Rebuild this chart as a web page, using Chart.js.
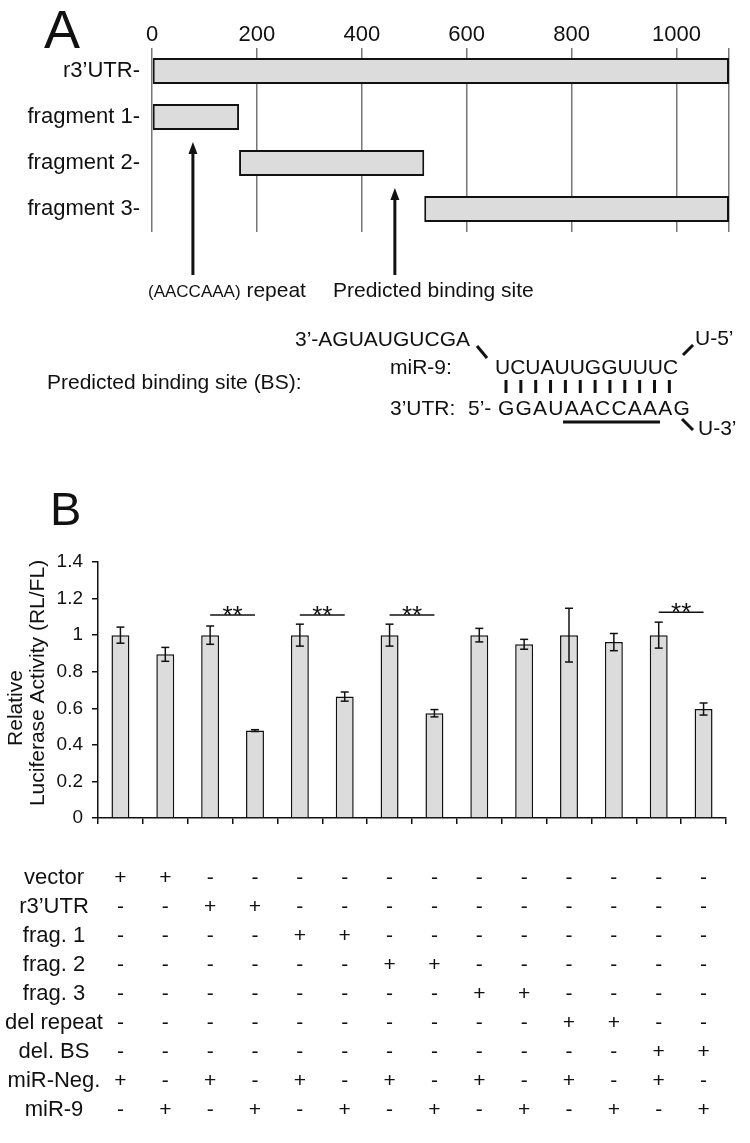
<!DOCTYPE html>
<html>
<head>
<meta charset="utf-8">
<script src="https://cdn.jsdelivr.net/npm/chart.js@4.4.1/dist/chart.umd.min.js"></script>
<style>
  body { margin: 0; background: #fff; }
  #page { position: relative; width: 750px; height: 1143px; overflow: hidden; background: #fff;
          font-family: "Liberation Sans", Arial, sans-serif; color: #111; }
  #page canvas { position: absolute; left: 0; }
  .t { position: absolute; white-space: nowrap; line-height: 1; }
</style>
</head>
<body>
<div id="page">
  <canvas id="mapChart" width="750" height="440" style="top:0"></canvas>
  <canvas id="lucChart" width="750" height="613" style="top:530px"></canvas>

  <div class="t" style="left:44px;top:2px;font-size:54px">A</div>
  <div class="t" style="left:148px;top:279px;font-size:21px"><span style="font-size:17px">(AACCAAA)</span> repeat</div>
  <div class="t" style="left:333px;top:279px;font-size:21px">Predicted binding site</div>
  <div class="t" style="left:295px;top:328px;font-size:21px">3’-AGUAUGUCGA</div>
  <div class="t" style="left:695px;top:327px;font-size:21px">U-5’</div>
  <div class="t" style="left:390px;top:356px;font-size:21px">miR-9:</div>
  <div class="t" style="left:495px;top:356px;font-size:21px">UCUAUUGGUUUC</div>
  <div class="t" style="left:47px;top:371px;font-size:21px">Predicted binding site (BS):</div>
  <div class="t" style="left:390px;top:397px;font-size:21px">3’UTR:</div>
  <div class="t" style="left:468px;top:397px;font-size:21px">5’-</div>
  <div class="t" style="left:498px;top:397px;font-size:21px;letter-spacing:1.2px">GGAUAACCAAAG</div>
  <div class="t" style="left:698px;top:417px;font-size:21px">U-3’</div>
  <div class="t" style="left:50px;top:485px;font-size:47px">B</div>
</div>

<script>
// panel A: 3'UTR map (nt)
const regionNames = ['r3\u2019UTR-', 'fragment 1-', 'fragment 2-', 'fragment 3-'];
const regionStart = [0, 0, 166, 519];
const regionEnd = [1100, 166, 519, 1100];
const ntTicks = [0, 200, 400, 600, 800, 1000];
const utrLength = 1100;
const arrowSites = [78, 463];   // repeat, predicted binding site
const arrowRows = [1, 2];

// panel B: luciferase assay
const samples = ['1', '2', '3', '4', '5', '6', '7', '8', '9', '10', '11', '12', '13', '14'];
const activity = [1.0, 0.895, 1.0, 0.478, 1.0, 0.664, 1.0, 0.573, 1.0, 0.950, 1.0, 0.962, 1.0, 0.596];
const activityErr = [0.044, 0.038, 0.05, 0.005, 0.06, 0.025, 0.06, 0.02, 0.037, 0.027, 0.147, 0.047, 0.071, 0.033];
const yTicks = [0, 0.2, 0.4, 0.6, 0.8, 1, 1.2, 1.4];
const sigPairs = [[2, 3], [4, 5], [6, 7], [12, 13]];
const sigLevel = [1.11, 1.11, 1.11, 1.125];

const constructs = ['vector', 'r3\u2019UTR', 'frag. 1', 'frag. 2', 'frag. 3', 'del repeat', 'del. BS', 'miR-Neg.', 'miR-9'];
const constructSigns = [
  '++------------',
  '--++----------',
  '----++--------',
  '------++------',
  '--------++----',
  '----------++--',
  '------------++',
  '+-+-+-+-+-+-+-',
  '-+-+-+-+-+-+-+'
];

const FONT = '"Liberation Sans", Arial, sans-serif';
const INK = '#111';
const BAR_FILL = '#dcdcdc';

function line(ctx, x1, y1, x2, y2) {
  ctx.beginPath();
  ctx.moveTo(x1, y1);
  ctx.lineTo(x2, y2);
  ctx.stroke();
}

const mapDecor = {
  id: 'mapDecor',
  afterDraw(chart) {
    const ctx = chart.ctx;
    const xs = chart.scales.x, ys = chart.scales.y;
    ctx.save();
    ctx.strokeStyle = INK;
    ctx.fillStyle = INK;
    ctx.lineWidth = 3;
    // arrows pointing at the sites
    arrowSites.forEach((site, i) => {
      const x = xs.getPixelForValue(site);
      const tip = ys.getPixelForValue(arrowRows[i]) + 25;
      line(ctx, x, tip + 8, x, 275);
      ctx.beginPath();
      ctx.moveTo(x, tip);
      ctx.lineTo(x - 4.5, tip + 12);
      ctx.lineTo(x + 4.5, tip + 12);
      ctx.closePath();
      ctx.fill();
    });
    // base pairing ticks
    for (let i = 0; i < 12; i++) {
      const x = 506 + i * 14.85;
      line(ctx, x, 380, x, 393);
    }
    // seed underline + loops
    line(ctx, 563, 422, 660, 422);
    line(ctx, 477, 346, 487, 358);
    line(ctx, 683, 355, 693, 345);
    line(ctx, 682, 419, 693, 430);
    ctx.restore();
  }
};

new Chart(document.getElementById('mapChart'), {
  type: 'bar',
  data: {
    labels: regionNames,
    datasets: [{
      data: regionStart.map((s, i) => [s, regionEnd[i]]),
      backgroundColor: BAR_FILL,
      borderColor: INK,
      borderWidth: 2,
      borderSkipped: false,
      barPercentage: 0.565,
      categoryPercentage: 1
    }]
  },
  options: {
    indexAxis: 'y',
    responsive: false,
    animation: false,
    devicePixelRatio: 1,
    layout: { padding: { top: 0, right: 21, bottom: 208, left: 0 } },
    plugins: { legend: { display: false }, tooltip: { enabled: false } },
    scales: {
      x: {
        position: 'top',
        min: 0,
        max: utrLength,
        afterBuildTicks: s => { s.ticks = ntTicks.concat([utrLength]).map(v => ({ value: v })); },
        afterFit: s => { s.height = 48; },
        ticks: {
          callback: v => ntTicks.includes(v) ? String(v) : '',
          font: { family: FONT, size: 22 },
          color: INK,
          padding: 0,
          maxRotation: 0
        },
        grid: { color: '#777', lineWidth: 1.5, drawTicks: false },
        border: { display: false }
      },
      y: {
        afterFit: s => { s.width = 152; },
        ticks: { font: { family: FONT, size: 22 }, color: INK, padding: 12 },
        grid: { display: false, drawTicks: false },
        border: { display: false }
      }
    }
  },
  plugins: [mapDecor]
});

const lucDecor = {
  id: 'lucDecor',
  afterDatasetsDraw(chart) {
    const ctx = chart.ctx;
    const ys = chart.scales.y;
    const bars = chart.getDatasetMeta(0).data;
    ctx.save();
    ctx.strokeStyle = INK;
    ctx.fillStyle = INK;
    ctx.lineWidth = 1.5;
    // error bars
    bars.forEach((b, i) => {
      const top = ys.getPixelForValue(activity[i] + activityErr[i]);
      const bot = ys.getPixelForValue(activity[i] - activityErr[i]);
      line(ctx, b.x, top, b.x, bot);
      line(ctx, b.x - 4, top, b.x + 4, top);
      line(ctx, b.x - 4, bot, b.x + 4, bot);
    });
    // significance marks
    ctx.font = '26px ' + FONT;
    ctx.textAlign = 'center';
    ctx.textBaseline = 'alphabetic';
    sigPairs.forEach((p, i) => {
      const y = ys.getPixelForValue(sigLevel[i]);
      const x1 = bars[p[0]].x, x2 = bars[p[1]].x;
      line(ctx, x1, y, x2, y);
      ctx.fillText('**', (x1 + x2) / 2, y + 9);
    });
    ctx.restore();
  },
  afterDraw(chart) {
    const ctx = chart.ctx;
    const area = chart.chartArea;
    const bars = chart.getDatasetMeta(0).data;
    ctx.save();
    ctx.fillStyle = INK;
    // y axis title (two lines)
    ctx.font = '21px ' + FONT;
    ctx.textAlign = 'center';
    ctx.textBaseline = 'middle';
    [['Relative', 16, 178], ['Luciferase Activity (RL/FL)', 38, 153]].forEach(t => {
      ctx.save();
      ctx.translate(t[1], t[2]);
      ctx.rotate(-Math.PI / 2);
      ctx.fillText(t[0], 0, 0);
      ctx.restore();
    });
    // construct table
    const rowTop = area.bottom + 60;
    const rowGap = 29;
    constructs.forEach((name, r) => {
      const y = rowTop + r * rowGap;
      ctx.font = '22px ' + FONT;
      ctx.textAlign = 'center';
      ctx.fillText(name, 54, y);
      ctx.font = '21px ' + FONT;
      constructSigns[r].split('').forEach((s, c) => {
        ctx.fillText(s, bars[c].x, y);
      });
    });
    ctx.restore();
  }
};

new Chart(document.getElementById('lucChart'), {
  type: 'bar',
  data: {
    labels: samples,
    datasets: [{
      data: activity,
      backgroundColor: BAR_FILL,
      borderColor: INK,
      borderWidth: 1.5,
      barPercentage: 0.4,
      categoryPercentage: 1
    }]
  },
  options: {
    responsive: false,
    animation: false,
    devicePixelRatio: 1,
    layout: { padding: { top: 32, right: 24, bottom: 0, left: 0 } },
    plugins: { legend: { display: false }, tooltip: { enabled: false } },
    scales: {
      x: {
        afterFit: s => { s.height = 325; },
        ticks: { display: false },
        grid: { drawOnChartArea: false, color: INK, lineWidth: 1.5, tickLength: 6, offset: true },
        border: { color: INK, width: 1.5 }
      },
      y: {
        min: 0,
        max: 1.4,
        afterBuildTicks: s => { s.ticks = yTicks.map(v => ({ value: v })); },
        afterFit: s => { s.width = 98; },
        ticks: {
          callback: v => String(+v.toFixed(1)),
          font: { family: FONT, size: 19 },
          color: INK,
          padding: 9
        },
        grid: { drawOnChartArea: false, color: INK, lineWidth: 1.5, tickLength: 6 },
        border: { color: INK, width: 1.5 }
      }
    }
  },
  plugins: [lucDecor]
});
</script>
</body>
</html>
